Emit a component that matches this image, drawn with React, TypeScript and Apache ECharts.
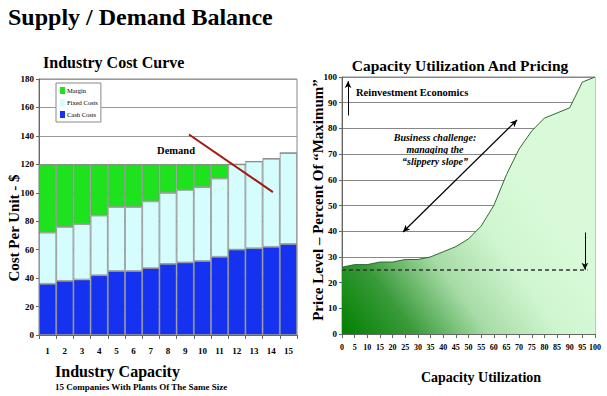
import React, { useEffect, useRef } from "react";
import * as echarts from "echarts";

const companies = ["1","2","3","4","5","6","7","8","9","10","11","12","13","14","15"];
const cashCosts = [36, 38, 39, 42, 45, 45, 47, 50, 51, 52, 55, 60, 61, 62, 64];
const fixedCosts = [36, 38, 39, 42, 45, 45, 47, 50, 51, 52, 55, 60, 61, 62, 64];
const margin = [48, 44, 42, 36, 30, 30, 26, 20, 18, 16, 10, 0, 0, 0, 0];
const demandLine = [[8.72, 141], [13.6, 100.5]];

const utilization = [0, 5, 10, 15, 20, 25, 30, 35, 40, 45, 50, 55, 60, 65, 70, 75, 80, 85, 90, 95, 100];
const priceLevel = [26, 27, 27, 28, 28, 29, 29, 30, 32, 34, 37, 42, 50, 62, 72, 79, 84, 86, 88, 98, 100];
const cashCostLevel = 25;

const SERIF = "Liberation Serif";
const NARROW = "Liberation Sans Narrow";

function txt(text: string, size: number, extra: any = {}) {
  return {
    text,
    fontFamily: SERIF,
    fontSize: size,
    fontWeight: "bold",
    fill: "#000",
    ...extra,
  };
}

export default function App() {
  const ref = useRef<HTMLDivElement>(null);
  useEffect(() => {
    const chart = echarts.init(ref.current!, null, { renderer: "svg" });
    const areaData = utilization.map((u, i) => [u, priceLevel[i]]);
    const tickFont = { fontFamily: NARROW, fontSize: 9, color: "#000", fontWeight: "bold" };
    const option: any = {
      animation: false,
      backgroundColor: "#ffffff",
      legend: {
        data: ["Margin", "Fixed Costs", "Cash Costs"],
        orient: "vertical",
        left: 56,
        top: 83,
        icon: "rect",
        itemWidth: 5,
        itemHeight: 7,
        itemGap: 5,
        padding: [4, 3, 4, 4],
        borderColor: "#888",
        borderWidth: 1,
        backgroundColor: "#fff",
        itemStyle: { borderWidth: 0 },
        textStyle: { fontFamily: SERIF, fontSize: 6.5, color: "#000", padding: [0, 0, 0, -3] },
      },
      grid: [
        { left: 39, top: 79, width: 258, height: 256, show: true, borderColor: "#888", borderWidth: 1 },
        { left: 342, top: 77, width: 253, height: 257, show: true, borderColor: "#888", borderWidth: 1 },
      ],
      xAxis: [
        {
          type: "category",
          gridIndex: 0,
          data: companies,
          boundaryGap: true,
          axisLine: { lineStyle: { color: "#666" } },
          axisTick: { show: true, length: 4, lineStyle: { color: "#666" } },
          axisLabel: { ...tickFont, margin: 11 },
        },
        { type: "value", gridIndex: 0, min: 0, max: 15, show: false },
        {
          type: "value",
          gridIndex: 1,
          min: 0,
          max: 100,
          interval: 5,
          axisLine: { lineStyle: { color: "#666" } },
          axisTick: { show: true, length: 4, lineStyle: { color: "#666" } },
          splitLine: { show: false },
          axisLabel: { ...tickFont, fontSize: 8, margin: 9 },
        },
      ],
      yAxis: [
        {
          type: "value",
          gridIndex: 0,
          min: 0,
          max: 180,
          interval: 20,
          axisLine: { show: true, lineStyle: { color: "#666" } },
          axisTick: { show: true, length: 3, lineStyle: { color: "#666" } },
          splitLine: { lineStyle: { color: "#999", width: 1 } },
          axisLabel: { ...tickFont, margin: 5 },
        },
        {
          type: "value",
          gridIndex: 1,
          min: 0,
          max: 100,
          interval: 10,
          axisLine: { show: true, lineStyle: { color: "#666" } },
          axisTick: { show: true, length: 3, lineStyle: { color: "#666" } },
          splitLine: { lineStyle: { color: "#888", width: 1 } },
          axisLabel: { ...tickFont, margin: 5 },
        },
      ],
      series: [
        {
          name: "Cash Costs",
          type: "bar",
          stack: "cost",
          xAxisIndex: 0,
          yAxisIndex: 0,
          data: cashCosts,
          barCategoryGap: 0,
          itemStyle: { color: "#1432f0", borderColor: "#8a8a8a", borderWidth: 0.8 },
        },
        {
          name: "Fixed Costs",
          type: "bar",
          stack: "cost",
          xAxisIndex: 0,
          yAxisIndex: 0,
          data: fixedCosts,
          barCategoryGap: 0,
          itemStyle: { color: "#d6fdfd", borderColor: "#8a8a8a", borderWidth: 0.8 },
        },
        {
          name: "Margin",
          type: "bar",
          stack: "cost",
          xAxisIndex: 0,
          yAxisIndex: 0,
          data: margin,
          barCategoryGap: 0,
          itemStyle: { color: "#1ee21e", borderColor: "#8a8a8a", borderWidth: 0.8 },
        },
        {
          name: "Demand",
          type: "line",
          xAxisIndex: 1,
          yAxisIndex: 0,
          data: demandLine,
          symbol: "none",
          lineStyle: { color: "#a01a10", width: 2 },
          z: 5,
        },
        {
          name: "Price",
          type: "line",
          xAxisIndex: 2,
          yAxisIndex: 1,
          data: areaData,
          symbol: "none",
          lineStyle: { color: "#2f6a2f", width: 1 },
          areaStyle: {
            opacity: 1,
            color: new echarts.graphic.LinearGradient(0, 1, 0.75, 0.45, [
              { offset: 0, color: "#008000" },
              { offset: 0.25, color: "#3a9a3a" },
              { offset: 0.5, color: "#a5dba5" },
              { offset: 0.75, color: "#cff5cf" },
              { offset: 1, color: "#d8fad8" },
            ]),
          },
          markLine: {
            silent: true,
            label: { show: false },
            data: [
              [
                { coord: [0, cashCostLevel], symbol: "none", lineStyle: { type: [4, 3], color: "#333", width: 1.5 } },
                { coord: [97, cashCostLevel], symbol: "none" },
              ],
              [
                { coord: [2.4, 85], symbol: "none", lineStyle: { type: "solid", color: "#000", width: 1 } },
                { coord: [2.4, 98.4], symbol: "arrow", symbolSize: [5, 7] },
              ],
              [
                { coord: [24.1, 39.7], symbol: "arrow", symbolSize: [5, 7], lineStyle: { type: "solid", color: "#000", width: 1.2 } },
                { coord: [69.2, 83.3], symbol: "arrow", symbolSize: [5, 7] },
              ],
              [
                { coord: [96, 39.5], symbol: "none", lineStyle: { type: "solid", color: "#000", width: 1 } },
                { coord: [96, 25], symbol: "arrow", symbolSize: [5, 7] },
              ],
            ],
          },
        },
      ],
      graphic: [
        { type: "text", left: 8, top: 5, style: txt("Supply / Demand Balance", 24) },
        { type: "text", left: 43, top: 54, style: txt("Industry Cost Curve", 16) },
        { type: "text", x: 460, y: 65, style: txt("Capacity Utilization And Pricing", 15.5, { align: "center", verticalAlign: "middle" }) },
        { type: "text", left: 55, top: 363, style: txt("Industry Capacity", 16) },
        { type: "text", left: 55, top: 382, style: txt("15 Companies With Plants Of The Same Size", 9) },
        { type: "text", x: 481, y: 377, style: txt("Capacity Utilization", 14, { align: "center", verticalAlign: "middle" }) },
        { type: "text", x: 14, y: 228, rotation: Math.PI / 2, style: txt("Cost Per Unit - $", 15, { align: "center", verticalAlign: "middle" }) },
        { type: "text", x: 318, y: 200, rotation: Math.PI / 2, style: txt("Price Level \u2013 Percent Of \u201CMaximum\u201D", 15, { align: "center", verticalAlign: "middle" }) },
        { type: "text", x: 176, y: 150, style: txt("Demand", 10.5, { align: "center", verticalAlign: "middle" }) },
        { type: "text", left: 356, y: 92, style: txt("Reinvestment Economics", 10.5, { verticalAlign: "middle" }) },
        { type: "text", x: 435, y: 137, style: txt("Business challenge:", 10, { fontStyle: "italic", align: "center", verticalAlign: "middle" }) },
        { type: "text", x: 435, y: 149, style: txt("managing the", 10, { fontStyle: "italic", align: "center", verticalAlign: "middle" }) },
        { type: "text", x: 435, y: 161, style: txt("\u201Cslippery slope\u201D", 10, { fontStyle: "italic", align: "center", verticalAlign: "middle" }) },
        { type: "text", x: 554, y: 261, style: txt("Cash Cost", 10.5, { align: "center", verticalAlign: "middle" }) },
      ],
    };
    chart.setOption(option);
    return () => chart.dispose();
  }, []);
  return <div ref={ref} style={{ position: "absolute", left: 0, top: 0, width: 607, height: 396 }} />;
}
